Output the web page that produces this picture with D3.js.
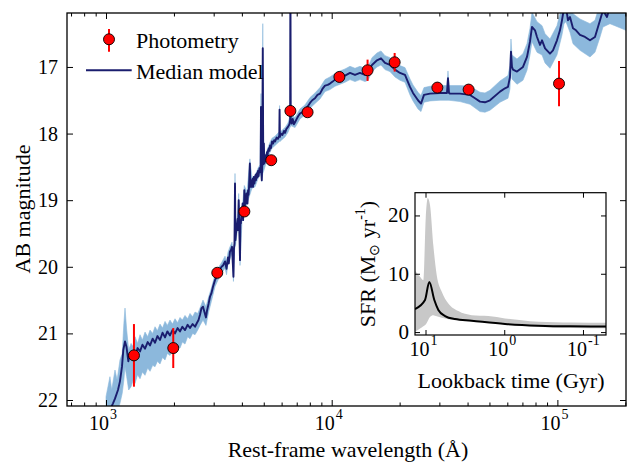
<!DOCTYPE html>
<html><head><meta charset="utf-8">
<script src="https://cdn.jsdelivr.net/npm/d3@7"></script>
<style>
body{margin:0;background:#fff}
svg{display:block}
text{font-family:"Liberation Serif","Times New Roman",serif;fill:#000}
</style>
</head><body>
<svg id="c" width="633" height="462"></svg>
<script>
// ---------------- DATA ----------------
// Median model spectrum: rest-frame wavelength (Angstrom) and AB magnitude
const modelWave = [1000,1041,1074,1096,1130,1153,1177,1193,1214,1232,1256,1275,1291,1320,1345,1380,1415,1450,1489,1530,1567,1610,1649,1690,1735,1780,1826,1870,1921,1970,2022,2075,2128,2180,2239,2300,2356,2420,2480,2531,2570,2609,2650,2690,2730,2773,2802,2850,2889,2930,2979,3040,3090,3135,3200,3250,3299,3368,3420,3472,3500,3543,3580,3617,3650,3670,3691,3710,3729,3745,3767,3800,3833,3850,3872,3890,
  3924,3940,3960,3985,4005,4030,4050,4070,4087,4101,4120,4145,4170,4190,4214,4235,4260,4280,4300,4340,4360,4380,4400,4420,4435,4460,4480,4500,4520,4545,4573,4600,4620,4650,4680,4715,4740,4760,4790,4812,4845,4861,4875,4900,4925,4950,4975,5007,5030,5055,5080,5120,5140,5167,5200,5220,5270,5300,5329,5380,5439,
  5500,5560,5609,5700,5780,5860,5876,5895,5950,6050,6150,6211,6300,6404,6500,6545,6563,6585,6650,6720,6800,6878,7000,7100,7236,7400,7616,7800,8014,8200,8433,8650,8875,9100,9340,9600,9829,10100,10343,10885,11455,12054,12685,13350,14048,14484,15088,15878,16537,17224,18126,19075,20073,21124,22230,22921,24121,24870,25643,27260,30190,32420,32760,33090,33430,37030,41010,43150,45410,47780,50280,55690,58600,60410,61660,62290,62930,63580,66220,70410,73340,75620,77190,79590,81230,83780,85510,88170,92740,95620,99590,102680,104810,106960,109180,111430,113740,117270,120920,125930,132570,139470,146780,154500,159220,165850,171030,179960,201400];
const modelMag = [22.4,22.15,22.05,21.98,21.85,21.72,21.5,21.25,21.12,21.2,21.42,21.3,21.38,21.33,21.36,21.22,21.27,21.17,21.23,21.13,21.18,21.08,21.14,21.04,21.1,20.99,21.06,20.97,21.03,20.95,21.0,20.92,20.97,20.9,20.95,20.87,20.92,20.86,20.9,20.84,20.8,20.72,20.62,20.6,20.68,20.76,20.66,20.55,20.45,20.4,20.3,20.2,20.15,20.1,20.04,20.0,19.98,19.92,20.03,19.86,19.95,19.77,19.75,19.7,19.98,20.15,19.72,19.65,18.75,19.6,19.5,19.4,19.28,19.45,19.0,19.3,
  19.9,19.3,19.35,19.15,19.22,19.05,19.3,19.1,19.15,18.85,19.1,18.95,19.05,18.9,18.95,19.05,18.85,18.92,18.82,18.45,18.8,18.7,18.8,18.7,18.76,18.68,18.8,18.7,18.65,18.75,18.68,18.62,18.7,18.6,18.66,18.56,18.64,18.58,18.52,18.58,18.5,17.6,18.52,18.7,18.48,16.72,18.46,18.15,18.45,18.36,18.42,18.32,18.38,18.28,18.33,18.26,18.22,18.26,18.18,18.22,18.12,
  18.15,18.1,18.12,18.06,18.08,18.03,17.64,18.05,18.0,18.02,17.96,17.99,17.93,17.9,17.86,17.8,15.5,17.78,17.85,17.78,17.86,17.83,17.78,17.74,17.7,17.68,17.64,17.6,17.54,17.5,17.47,17.42,17.4,17.33,17.28,17.27,17.25,17.22,17.19,17.16,17.13,17.09,17.12,17.09,17.12,17.1,16.97,16.9,16.87,16.94,16.97,17.04,17.09,17.12,17.3,17.39,17.5,17.55,17.42,17.4,17.39,17.39,17.17,17.39,17.4,17.4,17.42,17.47,17.52,17.53,17.5,17.37,17.32,17.3,17.15,16.77,17.0,17.04,17.07,17.0,16.85,16.62,16.4,16.45,16.55,16.67,16.6,16.72,16.8,16.75,16.6,16.45,16.3,16.12,16.1,16.3,16.25,16.42,16.45,16.52,16.55,16.6,16.55,16.3,16.15,16.25,16.1,16.05,16.0];

// 16th-84th percentile band of the model
const bandWave = [1000,1041,1060,1096,1120,1153,1180,1200,1214,1235,1260,1291,1320,1345,1380,1415,1450,1489,1530,1567,1610,1649,1690,1735,1780,1826,1870,1921,1970,2022,2075,2128,2180,2239,2300,2356,2420,2480,2550,2609,2690,2773,2850,2930,3040,3135,3250,3368,3420,3472,3543,3617,3670,3710,3729,3750,3833,3872,3910,3924,4005,4101,4214,4340,4435,4573,4715,4812,4861,4900,4950,5000,5167,5329,5439,5609,5860,5876,5895,6211,6404,6545,6563,6585,6878,7236,7616,8014,8433,8875,9340,9829,10343,10885,11455,12054,12685,13350,14048,14484,15088,15878,16537,17224,18126,19075,20073,21124,22230,22921,24121,24870,25643,27260,30190,32420,32760,33090,37030,41010,45410,47780,50280,55690,60410,61660,62290,62930,66220,70410,73340,75620,77190,81230,85510,88170,92740,99590,104810,106960,109180,113740,117270,125930,139470,146780,154500,159220,171030,201400];
const bandBright = [21.95,21.65,21.85,21.55,21.7,21.4,21.3,20.85,20.62,20.95,21.25,21.15,21.2,21.05,21.15,21.02,21.1,20.98,21.05,20.95,21.0,20.9,20.96,20.86,20.92,20.82,20.88,20.8,20.86,20.78,20.84,20.76,20.8,20.73,20.78,20.7,20.75,20.68,20.7,20.62,20.5,20.6,20.45,20.32,20.12,20.02,19.94,19.84,19.92,19.78,19.7,19.63,19.85,19.58,18.6,19.5,19.2,18.9,19.25,19.4,19.15,18.78,18.88,18.38,18.66,18.63,18.52,18.47,17.4,18.45,16.35,18.4,18.25,18.13,18.07,18.04,17.97,17.58,17.98,17.91,17.84,17.73,15.5,17.71,17.76,17.63,17.57,17.46,17.39,17.31,17.19,17.15,17.1,17.06,17.03,16.99,17.02,16.99,17.02,17.0,16.86,16.79,16.76,16.83,16.86,16.93,16.98,17.01,17.18,17.27,17.38,17.43,17.31,17.29,17.28,17.28,17.06,17.28,17.28,17.29,17.38,17.39,17.35,17.21,17.13,16.98,16.58,16.82,16.88,16.8,16.65,16.42,16.18,16.32,16.38,16.5,16.58,16.38,16.08,15.9,15.88,16.02,16.2,16.28,16.35,16.3,16.05,15.9,15.88,15.8];
const bandFaint = [22.7,22.5,22.4,22.25,22.2,22.05,21.9,21.7,21.5,21.65,21.85,21.8,21.7,21.75,21.62,21.68,21.58,21.63,21.52,21.57,21.48,21.5,21.42,21.46,21.36,21.4,21.3,21.33,21.24,21.28,21.2,21.22,21.13,21.16,21.05,21.08,21.0,21.02,20.95,20.88,20.8,20.88,20.68,20.52,20.3,20.2,20.1,20.02,20.12,19.95,19.88,19.8,20.22,19.75,19.7,19.68,19.4,19.4,19.65,19.98,19.32,19.2,19.05,18.92,18.82,18.8,18.68,18.62,18.62,18.72,18.6,18.56,18.4,18.28,18.22,18.18,18.12,18.1,18.12,18.05,17.98,17.9,17.9,17.88,17.91,17.78,17.72,17.62,17.55,17.48,17.37,17.34,17.29,17.26,17.23,17.19,17.22,17.19,17.22,17.2,17.07,17.0,16.97,17.04,17.07,17.15,17.2,17.23,17.42,17.51,17.63,17.67,17.53,17.51,17.5,17.5,17.5,17.5,17.52,17.56,17.67,17.68,17.65,17.53,17.47,17.33,16.96,17.18,17.26,17.2,17.05,16.82,16.62,16.78,16.82,16.94,17.02,16.82,16.52,16.35,16.32,16.48,16.65,16.75,16.85,16.78,16.55,16.4,16.35,16.45];

// Photometry
const photWave = [1330,1986,3112,4103,5397,6561,7819,10816,14420,19010,29390,40430,101700];
const photMag  = [21.33,21.22,20.09,19.17,18.40,17.66,17.68,17.15,17.05,16.93,17.31,17.34,17.25];
const photErr  = [0.47,0.30,0.04,0.04,0.04,0.05,0.04,0.08,0.16,0.14,0.04,0.04,0.34];

// Inset: star-formation history
const sfhTime   = [13.6,10.15,8.95,7.73,6.87,5.65,4.22,2.59,0.977,0.372,0.146,0.051];
const sfhMedian = [3.95,5.5,8.6,5.5,3.8,2.75,2.23,1.95,1.4,1.1,0.98,0.95];
const sfhBandTime  = [13.6,11.74,10.66,9.94,9.37,8.77,7.96,7.21,6.22,5.13,3.83,2.59,1.59,0.977,0.60,0.369,0.226,0.139,0.051];
const sfhBandUpper = [10.5,9.5,8.9,19.5,23.0,21.8,14.9,9.8,6.9,4.9,3.6,2.9,2.75,2.35,2.05,1.77,1.7,1.66,1.6];
const sfhBandLower = [0.05,0.6,1.0,1.3,1.9,2.6,2.9,2.7,2.45,2.2,2.0,1.8,1.66,1.35,1.08,0.9,0.74,0.68,0.64];

// Tick labels
const magTicks = [17,18,19,20,21,22];
const waveTickExp = [3,4,5];
const sfrTicks = [0,10,20];
const timeTickExp = [1,0,-1];

// ---------------- DRAWING ----------------
const svg = d3.select("#c");
const P = {l:67, t:13, r:626, b:406};
const x = d3.scaleLog().domain([671.7, 201400]).range([P.l, P.r]);
const y = d3.scaleLinear().domain([16.19, 22.09]).range([P.t, P.b]);

svg.append("defs").append("clipPath").attr("id","mainclip")
  .append("rect").attr("x",P.l).attr("y",P.t).attr("width",P.r-P.l).attr("height",P.b-P.t);

const main = svg.append("g").attr("clip-path","url(#mainclip)");

const band = bandWave.map((w,i)=>({w, b:bandBright[i], f:bandFaint[i]}));
main.append("path").datum(band)
  .attr("d", d3.area().x(d=>x(d.w)).y0(d=>y(d.f)).y1(d=>y(d.b)))
  .attr("fill","#8cb8dc").attr("stroke","#8cb8dc").attr("stroke-width",0.6);

const med = modelWave.map((w,i)=>({w, m:modelMag[i]}));
main.append("path").datum(med)
  .attr("d", d3.line().x(d=>x(d.w)).y(d=>y(d.m)))
  .attr("fill","none").attr("stroke","#1a1d6e").attr("stroke-width",1.9).attr("stroke-linejoin","round");

const phot = photWave.map((w,i)=>({w, m:photMag[i], e:photErr[i]}));
main.selectAll("line.err").data(phot).enter().append("line")
  .attr("x1",d=>x(d.w)).attr("x2",d=>x(d.w))
  .attr("y1",d=>y(d.m-d.e)).attr("y2",d=>y(d.m+d.e))
  .attr("stroke","#ff0000").attr("stroke-width",2);
main.selectAll("circle.pt").data(phot).enter().append("circle")
  .attr("cx",d=>x(d.w)).attr("cy",d=>y(d.m)).attr("r",5.5)
  .attr("fill","#ff0000").attr("stroke","#000").attr("stroke-width",0.9);

// axes (ticks inward)
const majors = waveTickExp.map(e=>Math.pow(10,e));
const minors = [];
[100,1000,10000,100000].forEach(d=>{for(let k=2;k<=9;k++){const v=d*k; if(v>671.7&&v<201400) minors.push(v);}});
function clean(g){ g.select(".domain").remove(); g.selectAll("text").remove(); g.selectAll("line").attr("stroke","#000").attr("stroke-width",1); }
svg.append("g").attr("transform",`translate(0,${P.b})`).call(d3.axisBottom(x).tickValues(majors).tickSize(-6).tickFormat("")).call(clean);
svg.append("g").attr("transform",`translate(0,${P.b})`).call(d3.axisBottom(x).tickValues(minors).tickSize(-3.5).tickFormat("")).call(clean);
svg.append("g").attr("transform",`translate(0,${P.t})`).call(d3.axisTop(x).tickValues(majors).tickSize(-6).tickFormat("")).call(clean);
svg.append("g").attr("transform",`translate(0,${P.t})`).call(d3.axisTop(x).tickValues(minors).tickSize(-3.5).tickFormat("")).call(clean);
svg.append("g").attr("transform",`translate(${P.l},0)`).call(d3.axisLeft(y).tickValues(magTicks).tickSize(-6).tickFormat("")).call(clean);
svg.append("g").attr("transform",`translate(${P.r},0)`).call(d3.axisRight(y).tickValues(magTicks).tickSize(-6).tickFormat("")).call(clean);

svg.append("rect").attr("x",P.l).attr("y",P.t).attr("width",P.r-P.l).attr("height",P.b-P.t)
  .attr("fill","none").attr("stroke","#000").attr("stroke-width",1.3);

// tick labels
svg.selectAll("text.yt").data(magTicks).enter().append("text")
  .attr("x",P.l-9).attr("y",d=>y(d)+7).attr("text-anchor","end").attr("font-size",20).text(d=>d);
waveTickExp.forEach(e=>{
  const tx = x(Math.pow(10,e));
  svg.append("text").attr("x",tx+3).attr("y",430).attr("text-anchor","end").attr("font-size",20).text("10");
  svg.append("text").attr("x",tx+4).attr("y",419).attr("font-size",14).text(e);
});

// axis labels
svg.append("text").attr("x",348).attr("y",457).attr("text-anchor","middle").attr("font-size",22).text("Rest-frame wavelength (Å)");
svg.append("text").attr("transform","translate(30,209) rotate(-90)").attr("text-anchor","middle").attr("font-size",22).text("AB magnitude");

// legend
svg.append("line").attr("x1",109).attr("x2",109).attr("y1",29).attr("y2",51.7).attr("stroke","#ff0000").attr("stroke-width",2);
svg.append("circle").attr("cx",109).attr("cy",39.3).attr("r",5.5).attr("fill","#ff0000").attr("stroke","#000").attr("stroke-width",0.9);
svg.append("text").attr("x",136).attr("y",47.5).attr("font-size",22).text("Photometry");
svg.append("line").attr("x1",86).attr("x2",131.7).attr("y1",70.3).attr("y2",70.3).attr("stroke","#1a1d6e").attr("stroke-width",2);
svg.append("text").attr("x",136).attr("y",78.5).attr("font-size",22).text("Median model");

// ---------------- INSET ----------------
const I = {l:415, t:192.7, r:606, b:335};
const ix = d3.scaleLog().domain([13.6, 0.051]).range([I.l, I.r]);
const iy = d3.scaleLinear().domain([-0.5, 23.9]).range([I.b, I.t]);
svg.append("rect").attr("x",I.l).attr("y",I.t).attr("width",I.r-I.l).attr("height",I.b-I.t).attr("fill","#fff");
svg.append("defs").append("clipPath").attr("id","insclip")
  .append("rect").attr("x",I.l).attr("y",I.t).attr("width",I.r-I.l).attr("height",I.b-I.t);
const ins = svg.append("g").attr("clip-path","url(#insclip)");
const sb = sfhBandTime.map((t,i)=>({t, u:sfhBandUpper[i], lo:sfhBandLower[i]}));
ins.append("path").datum(sb)
  .attr("d", d3.area().x(d=>ix(d.t)).y0(d=>iy(d.lo)).y1(d=>iy(d.u)).curve(d3.curveMonotoneX))
  .attr("fill","#c8c8c8");
const sm = sfhTime.map((t,i)=>({t, s:sfhMedian[i]}));
ins.append("path").datum(sm)
  .attr("d", d3.line().x(d=>ix(d.t)).y(d=>iy(d.s)).curve(d3.curveMonotoneX))
  .attr("fill","none").attr("stroke","#000").attr("stroke-width",2);

const tmaj = timeTickExp.map(e=>Math.pow(10,e));
svg.append("g").attr("transform",`translate(0,${I.b})`).call(d3.axisBottom(ix).tickValues(tmaj).tickSize(-5).tickFormat("")).call(clean);
svg.append("g").attr("transform",`translate(0,${I.t})`).call(d3.axisTop(ix).tickValues(tmaj).tickSize(-5).tickFormat("")).call(clean);
svg.append("g").attr("transform",`translate(${I.l},0)`).call(d3.axisLeft(iy).tickValues(sfrTicks).tickSize(-5).tickFormat("")).call(clean);
svg.append("g").attr("transform",`translate(${I.r},0)`).call(d3.axisRight(iy).tickValues(sfrTicks).tickSize(-5).tickFormat("")).call(clean);
svg.append("rect").attr("x",I.l).attr("y",I.t).attr("width",I.r-I.l).attr("height",I.b-I.t)
  .attr("fill","none").attr("stroke","#000").attr("stroke-width",1.2);

svg.selectAll("text.iyt").data(sfrTicks).enter().append("text")
  .attr("x",I.l-6).attr("y",d=>iy(d)+7).attr("text-anchor","end").attr("font-size",21).text(d=>d);
timeTickExp.forEach(e=>{
  const tx = ix(Math.pow(10,e));
  svg.append("text").attr("x",tx+4).attr("y",356).attr("text-anchor","end").attr("font-size",20).text("10");
  svg.append("text").attr("x",tx+5).attr("y",345).attr("font-size",14).text(e);
});
svg.append("text").attr("x",511).attr("y",388).attr("text-anchor","middle").attr("font-size",22).text("Lookback time (Gyr)");
const sl = svg.append("text").attr("transform","translate(375,264) rotate(-90)").attr("text-anchor","middle").attr("font-size",22);
sl.append("tspan").text("SFR (M");
sl.append("tspan").attr("font-size",14).attr("dy",4).text("⊙");
sl.append("tspan").attr("dy",-4).text(" yr");
sl.append("tspan").attr("font-size",14).attr("dy",-10).text("-1");
sl.append("tspan").attr("dy",10).text(")");
</script>
</body></html>
